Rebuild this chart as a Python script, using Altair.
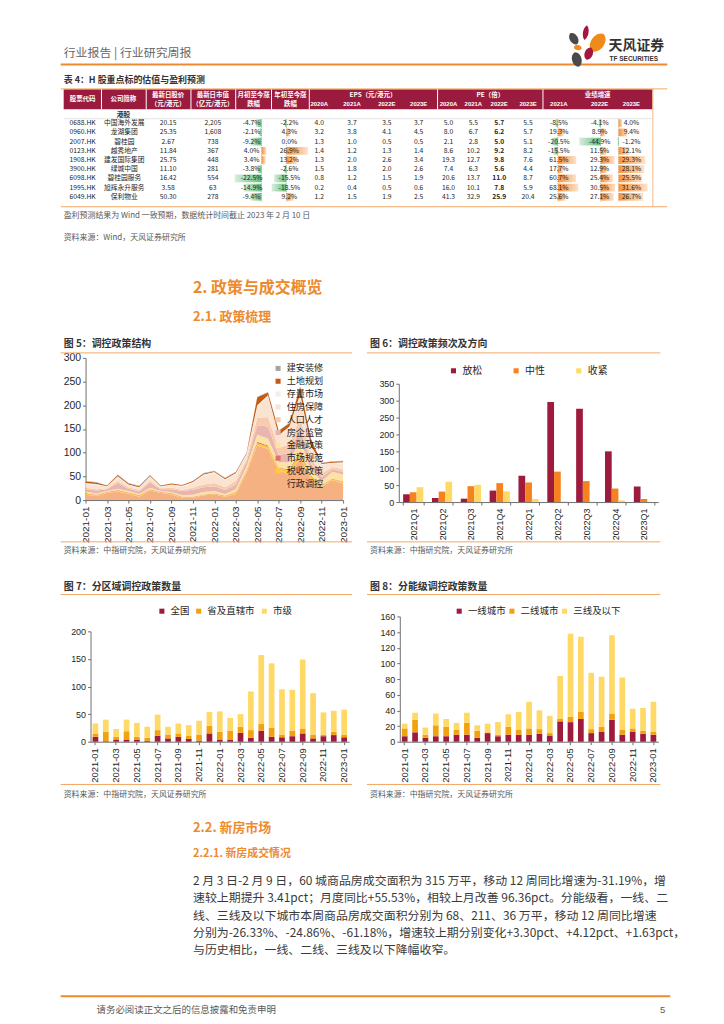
import altair as alt
import pandas as pd

FONT = "Noto Sans CJK SC"
NUM = "Liberation Sans"
ORANGE = "#EE8A2E"
LINE = "#F3A765"
DARK = "#333333"
GREY = "#595959"
CRIMSON = "#9B1B3F"

# ---------------- Table 4 data ----------------
codes = ["0688.HK", "0960.HK", "2007.HK", "0123.HK", "1908.HK", "3900.HK", "6098.HK", "1995.HK", "6049.HK"]
names = ["中国海外发展", "龙湖集团", "碧桂园", "越秀地产", "建发国际集团", "绿城中国", "碧桂园服务", "旭辉永升服务", "保利物业"]
price = ["20.15", "25.35", "2.67", "11.84", "25.75", "11.10", "16.42", "3.58", "50.30"]
mcap = ["2,205", "1,608", "738", "367", "448", "281", "554", "63", "278"]
mtd = [-4.7, -2.1, -9.2, 4.0, 3.4, -3.8, -22.5, -14.9, -9.4]
ytd = [-2.2, 4.3, 0.0, 26.9, 13.2, -2.6, -15.5, -18.5, 9.2]
eps20 = [4.0, 3.2, 1.3, 1.4, 1.3, 1.5, 0.8, 0.2, 1.2]
eps21 = [3.7, 3.8, 1.0, 1.2, 2.0, 1.8, 1.2, 0.4, 1.5]
eps22 = [3.5, 4.1, 0.5, 1.3, 2.6, 2.0, 1.5, 0.5, 1.9]
eps23 = [3.7, 4.5, 0.5, 1.4, 3.4, 2.6, 1.9, 0.6, 2.5]
pe20 = [5.0, 8.0, 2.1, 8.6, 19.3, 7.4, 20.6, 16.0, 41.3]
pe21 = [5.5, 6.7, 2.8, 10.2, 12.7, 6.3, 13.7, 10.1, 32.9]
pe22 = [5.7, 6.2, 5.0, 9.2, 9.8, 5.6, 11.0, 7.8, 25.9]
pe23 = [5.5, 5.7, 5.1, 8.2, 7.6, 4.4, 8.7, 5.9, 20.4]
g21 = [-8.5, 19.3, -20.5, -15.5, 61.5, 17.7, 60.7, 68.1, 25.6]
g22 = [-4.1, 8.9, -44.9, 11.5, 29.3, 12.9, 25.4, 30.5, 27.1]
g23 = [4.0, 9.4, -1.2, 12.1, 29.3, 28.1, 25.5, 31.6, 26.7]

# ---------------- Figure data ----------------
months = ["2021-01", "2021-02", "2021-03", "2021-04", "2021-05", "2021-06", "2021-07", "2021-08",
          "2021-09", "2021-10", "2021-11", "2021-12", "2022-01", "2022-02", "2022-03", "2022-04",
          "2022-05", "2022-06", "2022-07", "2022-08", "2022-09", "2022-10", "2022-11", "2022-12", "2023-01"]

# Fig 5 (stack bottom -> top)
s5_names = ["行政调控", "税收政策", "市场规范", "金融政策", "房企监管", "人口人才", "住房保障", "存量市场", "土地规划", "建安装修"]
xzdk = [12, 8, 15, 18, 13, 7, 20, 15, 12, 5, 5, 10, 12, 7, 13, 58, 115, 108, 62, 55, 90, 45, 28, 42, 35]
sszc = [2, 2, 1, 2, 2, 2, 2, 1, 2, 1, 1, 1, 1, 1, 3, 4, 5, 5, 5, 8, 10, 5, 3, 2, 3]
scgf = [1, 1, 1, 1, 1, 1, 1, 1, 1, 1, 1, 1, 1, 1, 1, 1, 3, 2, 1, 2, 4, 2, 1, 1, 1]
jrzc = [3, 3, 2, 3, 3, 3, 3, 2, 2, 3, 4, 5, 5, 4, 6, 8, 15, 15, 12, 15, 25, 12, 8, 15, 15]
fqjg = [5, 6, 4, 12, 5, 5, 11, 4, 6, 9, 11, 10, 10, 8, 10, 10, 20, 25, 15, 20, 22, 12, 8, 5, 5]
rkrc = [3, 3, 2, 4, 3, 3, 4, 2, 3, 3, 4, 6, 7, 6, 7, 5, 15, 20, 15, 18, 25, 12, 8, 5, 6]
zfbz = [8, 9, 3, 8, 5, 5, 7, 3, 5, 6, 10, 18, 20, 15, 15, 10, 25, 43, 25, 35, 45, 25, 18, 8, 12]
clsc = [2, 2, 1, 2, 1, 1, 2, 1, 2, 2, 2, 3, 3, 2, 2, 1, 2, 3, 2, 2, 3, 2, 2, 1, 3]
tdgh = [3, 3, 2, 3, 2, 2, 2, 2, 2, 2, 2, 2, 2, 2, 2, 2, 17, 6, 9, 7, 15, 14, 2, 2, 2]
jazx = [1, 1, 0, 1, 1, 1, 1, 0, 0, 0, 0, 1, 1, 1, 1, 1, 1, 1, 1, 1, 1, 1, 1, 1, 1]
s5_vals = [xzdk, sszc, scgf, jrzc, fqjg, rkrc, zfbz, clsc, tdgh, jazx]
s5_colors = {"建安装修": "#A5A5A5", "土地规划": "#C55A11", "存量市场": "#F3EEEC", "住房保障": "#FBE3D2",
             "人口人才": "#F8CBAD", "房企监管": "#E8B6AF", "金融政策": "#FCE3A4", "市场规范": "#E07070",
             "税收政策": "#FFCB3A", "行政调控": "#F6B183"}

# Fig 6
quarters = ["2021Q1", "2021Q2", "2021Q3", "2021Q4", "2022Q1", "2022Q2", "2022Q3", "2022Q4", "2023Q1"]
s6_names = ["放松", "中性", "收紧"]
f6_loose = [23, 12, 10, 34, 78, 296, 276, 150, 46]
f6_neutral = [29, 31, 47, 56, 58, 90, 62, 40, 9]
f6_tight = [44, 60, 51, 32, 9, 2, 1, 5, 0]

# Fig 7
s7_names = ["全国", "省及直辖市", "市级"]
f7_nat = [9, 1, 4, 4, 4, 2, 11, 6, 9, 5, 2, 15, 4, 4, 16, 7, 20, 9, 8, 10, 15, 6, 10, 12, 8]
f7_prov = [5, 17, 5, 15, 5, 5, 10, 7, 6, 6, 11, 14, 14, 16, 11, 14, 12, 16, 5, 10, 9, 7, 3, 6, 5]
f7_city = [19, 22, 14, 21, 25, 20, 28, 14, 18, 19, 25, 25, 37, 23, 23, 70, 125, 117, 82, 74, 125, 75, 40, 38, 45]

# Fig 8
s8_names = ["一线城市", "二线城市", "三线及以下"]
f8_t1 = [7, 12, 5, 7, 7, 9, 9, 5, 11, 7, 9, 9, 9, 10, 8, 26, 25, 29, 11, 13, 28, 9, 13, 10, 9]
f8_t2 = [10, 16, 4, 14, 12, 6, 15, 9, 1, 2, 10, 6, 8, 6, 3, 3, 7, 9, 5, 6, 8, 6, 4, 4, 4]
f8_t3 = [6, 9, 9, 15, 10, 9, 13, 7, 11, 16, 16, 23, 34, 24, 22, 55, 106, 96, 72, 64, 100, 67, 25, 29, 38]

para = [
    "2 月 3 日-2 月 9 日，60 城商品房成交面积为 315 万平，移动 12 周同比增速为-31.19%，增",
    "速较上期提升 3.41pct；月度同比+55.53%，相较上月改善 96.36pct。分能级看，一线、二",
    "线、三线及以下城市本周商品房成交面积分别为 68、211、36 万平，移动 12 周同比增速",
    "分别为-26.33%、-24.86%、-61.18%，增速较上期分别变化+3.30pct、+4.12pct、+1.63pct，",
    "与历史相比，一线、二线、三线及以下降幅收窄。",
]

# ---------------- helpers ----------------
W, H = 708, 1008
ONE = pd.DataFrame({"z": [0]})
L = []


def px(v):
    return v - 8


def text(s, x, y, size=9, color=DARK, weight="normal", align="left", font=FONT):
    L.append(alt.Chart(ONE).mark_text(text=s, fontSize=size, color=color, fontWeight=weight, align=align,
                                      baseline="middle", font=font)
             .encode(x=alt.value(px(x)), y=alt.value(px(y))))


def hline(x1, x2, y, color=LINE, w=1.0):
    L.append(alt.Chart(ONE).mark_rule(color=color, strokeWidth=w)
             .encode(x=alt.value(px(x1)), x2=alt.value(px(x2)), y=alt.value(px(y))))


def vline(x, y1, y2, color, w=1.0):
    L.append(alt.Chart(ONE).mark_rule(color=color, strokeWidth=w)
             .encode(x=alt.value(px(x)), y=alt.value(px(y1)), y2=alt.value(px(y2))))


def box(x1, x2, y1, y2, color):
    L.append(alt.Chart(ONE).mark_rect(color=color)
             .encode(x=alt.value(px(x1)), x2=alt.value(px(x2)), y=alt.value(px(y1)), y2=alt.value(px(y2))))


def axis_y(x_page, values, size):
    return alt.Axis(orient="left", offset=-px(x_page), values=values, title=None, grid=False,
                    labelFont=NUM, labelFontSize=size, labelColor="#262626", domainColor="#6F6F6F",
                    tickColor="#6F6F6F", tickSize=3, labelPadding=2)


def axis_x(y_page, values, size, band=False):
    kw = dict(orient="bottom", offset=px(y_page) - H, values=values, title=None, grid=False,
              labelFont=NUM, labelFontSize=size, labelColor="#262626", labelAngle=270, labelOverlap=False,
              domainColor="#6F6F6F", tickColor="#6F6F6F", tickSize=3, labelPadding=3)
    if band:
        kw["tickBand"] = "extent"
    return alt.Axis(**kw)


def legend(x_page, y_page, direction, n, size=10, colpad=10, rowpad=2):
    kw = dict(orient="none", legendX=px(x_page), legendY=px(y_page), direction=direction, title=None,
              symbolType="square", symbolSize=26, symbolStrokeWidth=0, labelFont=FONT, labelFontSize=size,
              labelColor="#262626", labelOffset=4, padding=0, rowPadding=rowpad, columnPadding=colpad,
              gridAlign="none")
    if direction == "horizontal":
        kw["columns"] = n
    return alt.Legend(**kw)


# ---------------- page header ----------------
text("行业报告 | 行业研究周报", 60, 50, 12, "#666666")
hline(57, 667, 62, ORANGE, 2)
PETAL_SLIM = "M0,-1C0.5,-0.55 0.5,0.55 0,1C-0.5,0.55 -0.5,-0.55 0,-1Z"
PETAL_FAT = "M0,-1C0.85,-0.8 0.85,0.8 0,1C-0.85,0.8 -0.85,-0.8 0,-1Z"
for x, y, ln, ang, path, col in [
    (573, 36, 13, 330, PETAL_FAT, "#4A4A4A"),
    (585, 30, 15, 10, PETAL_SLIM, "#A5173F"),
    (597, 40, 21, 35, PETAL_FAT, "#F08A1C"),
    (577, 45, 8, 100, PETAL_FAT, "#F08A1C"),
    (588, 51, 13, 20, PETAL_FAT, "#A5173F"),
    (576, 57, 15, 345, PETAL_FAT, "#4A4A4A"),
]:
    L.append(alt.Chart(ONE).mark_point(shape=path, filled=True, size=ln * ln, angle=ang, color=col,
                                       opacity=1, strokeWidth=0)
             .encode(x=alt.value(px(x)), y=alt.value(px(y))))
text("天风证券", 608, 43, 14, "#333333", "bold")
text("TF SECURITIES", 609, 56, 6.5, "#333333", "bold", font=NUM)

# ---------------- Table 4 ----------------
text("表 4：H 股重点标的估值与盈利预测", 60, 78, 9, DARK, "bold")
hline(57, 667, 86.5, LINE, 1)
box(60, 652, 87, 107, CRIMSON)
for sx in [98, 143, 188, 233, 269, 307, 436, 542]:
    vline(sx, 87, 107, "#FFFFFF", 1)
HW = dict(size=6.5, color="#FFFFFF", weight="bold", align="center")
text("股票代码", 79, 97, **HW)
text("公司简称", 120, 97, **HW)
text("最新日股价", 165, 93, **HW)
text("（元/港元）", 165, 102, **HW)
text("最新日市值", 210, 93, **HW)
text("（亿元/港元）", 210, 102, **HW)
text("月初至今涨", 251, 93, **HW)
text("跌幅", 251, 102, **HW)
text("年初至今涨", 288, 93, **HW)
text("跌幅", 288, 102, **HW)
text("EPS（元/港元）", 371, 93, **HW)
text("PE（倍）", 489, 93, **HW)
text("业绩增速", 597, 93, **HW)
for yx, lab in zip([317, 350, 385, 417, 447, 472, 498, 527, 558, 599, 631],
                   ["2020A", "2021A", "2022E", "2023E", "2020A", "2021A", "2022E", "2023E", "2021A", "2022E", "2023E"]):
    text(lab, yx, 102, 6, "#FFFFFF", "bold", "center", NUM)
text("港股", 120, 113, 7, DARK, "bold", "center")
hline(60, 652, 116.5, "#DDDDDD", 0.8)
vline(652.5, 86.5, 205, LINE, 0.8)

YT = alt.Scale(domain=[0, 8], range=[px(121), px(195)])
GRAD_POS = {"gradient": "linear", "x1": 0, "x2": 1, "y1": 0, "y2": 0,
            "stops": [{"offset": 0, "color": "#F7923A"}, {"offset": 1, "color": "#FCE2CC"}]}
GRAD_NEG = {"gradient": "linear", "x1": 0, "x2": 1, "y1": 0, "y2": 0,
            "stops": [{"offset": 0, "color": "#D8EFDC"}, {"offset": 1, "color": "#63BE7B"}]}
for key, vals, zero, k in [("mtd", mtd, 259, 1.2), ("ytd", ytd, 284, 0.8), ("g21", g21, 557, 0.3),
                           ("g22", g22, 600, 0.48), ("g23", g23, 618, 0.92)]:
    d = pd.DataFrame({"ri": list(range(len(vals))), "v": vals, "z": [0] * len(vals)})
    xs = alt.Scale(domain=[-100, 100], range=[px(zero) - 100 * k, px(zero) + 100 * k])
    for cond, grad in [("datum.v < 0", GRAD_NEG), ("datum.v > 0", GRAD_POS)]:
        L.append(alt.Chart(d).transform_filter(cond)
                 .transform_calculate(y0="datum.ri - 0.42", y1="datum.ri + 0.42")
                 .mark_bar(color=grad)
                 .encode(x=alt.X("v:Q", scale=xs, axis=None), x2="z:Q",
                         y=alt.Y("y0:Q", scale=YT, axis=None), y2="y1:Q"))
    L.append(alt.Chart(ONE).mark_rule(color="#9A9A9A", strokeWidth=0.6, strokeDash=[1, 1])
             .encode(x=alt.X("z:Q", scale=xs, axis=None), y=alt.value(px(117)), y2=alt.value(px(200))))

COLX = {"code": 79, "name": 121, "price": 165, "mcap": 210, "mtd": 249, "ytd": 287,
        "e20": 317, "e21": 350, "e22": 385, "e23": 417, "p20": 447, "p21": 472, "p22": 498, "p23": 527,
        "g21": 558, "g22": 599, "g23": 631}


def pct(v):
    return f"{v:.1f}%"


def one_dec(v):
    return f"{v:.1f}"


table_cols = [("code", codes), ("name", names), ("price", price), ("mcap", mcap),
              ("mtd", [pct(v) for v in mtd]), ("ytd", [pct(v) for v in ytd]),
              ("e20", [one_dec(v) for v in eps20]), ("e21", [one_dec(v) for v in eps21]),
              ("e22", [one_dec(v) for v in eps22]), ("e23", [one_dec(v) for v in eps23]),
              ("p20", [one_dec(v) for v in pe20]), ("p21", [one_dec(v) for v in pe21]),
              ("p22", [one_dec(v) for v in pe22]), ("p23", [one_dec(v) for v in pe23]),
              ("g21", [pct(v) for v in g21]), ("g22", [pct(v) for v in g22]), ("g23", [pct(v) for v in g23])]
recs = []
for key, vals in table_cols:
    for i, t in enumerate(vals):
        recs.append({"x": px(COLX[key]), "ri": i, "t": t, "b": 1 if key == "p22" else 0})
cells = pd.DataFrame(recs)
for b, wgt in [(0, "normal"), (1, "bold")]:
    L.append(alt.Chart(cells[cells["b"] == b]).mark_text(font=FONT, fontSize=6.8, color="#262626", fontWeight=wgt,
                                                       align="center", baseline="middle")
             .encode(x=alt.X("x:Q", scale=None, axis=None), y=alt.Y("ri:Q", scale=YT, axis=None), text="t:N"))

hline(57, 667, 205, LINE, 1.2)
text("盈利预测结果为 Wind 一致预期，数据统计时间截止 2023 年 2 月 10 日", 60, 214, 8, GREY)
text("资料来源：Wind，天风证券研究所", 60, 236, 8, GREY)
text("2. 政策与成交概览", 190, 287, 16, ORANGE, "bold")
text("2.1. 政策梳理", 190, 316, 13, ORANGE, "bold")

# ---------------- figure frames ----------------
SRC = "资料来源：中指研究院，天风证券研究所"
for title, x0, x1, ty, l1, l2, sy in [
    ("图 5：调控政策结构", 57, 350, 343, 352, 542, 551),
    ("图 6：调控政策频次及方向", 365, 660, 343, 352, 542, 551),
    ("图 7：分区域调控政策数量", 57, 350, 587, 595, 786, 797),
    ("图 8：分能级调控政策数量", 365, 660, 587, 595, 786, 797),
]:
    text(title, x0 + 3, ty, 10, DARK, "bold")
    hline(x0, x1, l1, LINE, 1)
    hline(x0, x1, l2, LINE, 1)
    text(SRC, x0 + 3, sy, 8, GREY)

# ---------------- Fig 5: stacked area ----------------
df5 = pd.DataFrame([{"m": months[i], "s": s, "v": vals[i], "o": j}
                    for j, (s, vals) in enumerate(zip(s5_names, s5_vals)) for i in range(len(months))])
leg5 = s5_names[::-1]
L.append(alt.Chart(df5).mark_area(opacity=1).encode(
    x=alt.X("m:O", scale=alt.Scale(domain=months, range=[px(82), px(341)], padding=0),
            axis=axis_x(500, months[::2], 10)),
    y=alt.Y("v:Q", stack="zero", scale=alt.Scale(domain=[0, 300], range=[px(500), px(357)], nice=False),
            axis=axis_y(82, [0, 50, 100, 150, 200, 250, 300], 10.5)),
    color=alt.Color("s:N", scale=alt.Scale(domain=leg5, range=[s5_colors[s] for s in leg5]),
                    legend=legend(271, 363, "vertical", 10, 9.2, 10, 2.9)),
    order=alt.Order("o:Q", sort="ascending"),
))

# ---------------- Fig 6: grouped bars ----------------
df6 = pd.DataFrame([{"q": quarters[i], "s": s, "v": vals[i]}
                    for s, vals in zip(s6_names, [f6_loose, f6_neutral, f6_tight]) for i in range(len(quarters))])
L.append(alt.Chart(df6).mark_bar().encode(
    x=alt.X("q:N", scale=alt.Scale(domain=quarters, range=[px(397), px(658)], paddingInner=0.3, paddingOuter=0.15),
            axis=axis_x(502, quarters, 9, band=True)),
    xOffset=alt.XOffset("s:N", scale=alt.Scale(domain=s6_names, paddingInner=0, paddingOuter=0)),
    y=alt.Y("v:Q", scale=alt.Scale(domain=[0, 350], range=[px(502), px(383)], nice=False),
            axis=axis_y(397, [0, 50, 100, 150, 200, 250, 300, 350], 9)),
    color=alt.Color("s:N", scale=alt.Scale(domain=s6_names, range=["#9E1B3E", "#F5821F", "#FFD966"]),
                    legend=legend(447, 365, "horizontal", 3, 10, 29)),
))

# ---------------- Fig 7 / Fig 8: stacked bars ----------------
def stacked(series_names, series_vals, x0, x1, y0, ytop, ymax, ystep, colors, lx, colpad, lsize):
    d = pd.DataFrame([{"m": months[i], "s": s, "v": vals[i], "o": j}
                      for j, (s, vals) in enumerate(zip(series_names, series_vals)) for i in range(len(months))])
    return alt.Chart(d).mark_bar().encode(
        x=alt.X("m:N", scale=alt.Scale(domain=months, range=[px(x0), px(x1)], paddingInner=0.45, paddingOuter=0.2),
                axis=axis_x(y0, months[::2], 9.5)),
        y=alt.Y("v:Q", stack="zero", scale=alt.Scale(domain=[0, ymax], range=[px(y0), px(ytop)], nice=False),
                axis=axis_y(x0, list(range(0, ymax + 1, ystep)), 9)),
        color=alt.Color("s:N", scale=alt.Scale(domain=series_names, range=colors),
                        legend=legend(lx, 607, "horizontal", len(series_names), lsize, colpad)),
        order=alt.Order("o:Q", sort="ascending"),
    )


L.append(stacked(s7_names, [f7_nat, f7_prov, f7_city], 87, 347, 743, 632, 200, 50,
                 ["#9E1B3E", "#F2A20F", "#FFD966"], 154, 4, 9.5))
L.append(stacked(s8_names, [f8_t1, f8_t2, f8_t3], 398, 658, 743, 617, 160, 20,
                 ["#9E1B3E", "#F2A20F", "#FFD966"], 453, 1, 9.5))

# ---------------- section 2.2 ----------------
text("2.2. 新房市场", 190, 830, 13, ORANGE, "bold")
text("2.2.1. 新房成交情况", 190, 856, 11, ORANGE, "bold")
for i, line in enumerate(para):
    text(line, 190, 883 + 17.4 * i, 12, "#3A3A3A")

# ---------------- footer ----------------
hline(57, 670, 999, ORANGE, 2)
text("请务必阅读正文之后的信息披露和免责申明", 93, 1013, 9.5, GREY)
text("5", 665, 1013, 9.5, GREY, align="right", font=NUM)

chart = (alt.layer(*L)
         .properties(width=W, height=H, padding=0)
         .resolve_scale(x="independent", y="independent", color="independent")
         .configure_view(strokeWidth=0))
chart.save("out.html", embed_options={"renderer": "svg", "actions": False})
